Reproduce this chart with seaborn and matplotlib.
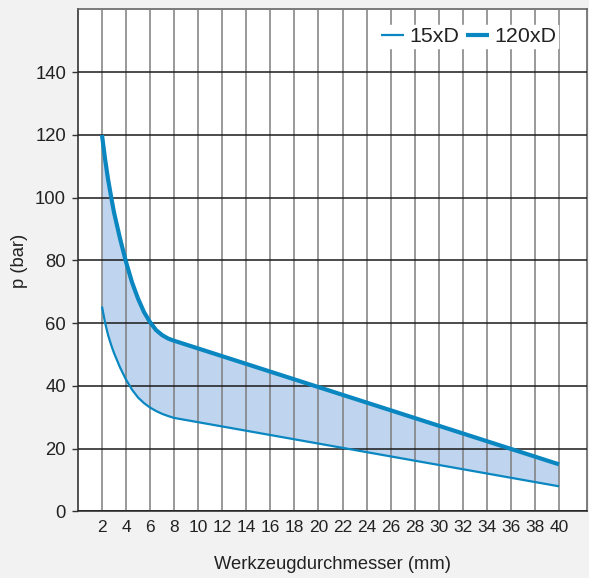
import matplotlib
matplotlib.use("Agg")
import matplotlib.pyplot as plt
import seaborn as sns
import pandas as pd

# Tool diameter (mm) and coolant pressure (bar) for two drilling depths
diameter = [2, 2.25, 2.5, 2.75, 3, 3.5, 4, 4.5, 5, 5.5, 6, 6.5, 7, 7.5, 8, 40]
p_15xD = [65.3, 60.3, 56.3, 53.2, 50.5, 45.9, 42.0, 38.8, 36.3, 34.5, 33.1, 32.0, 31.1, 30.4, 29.8, 8]
p_120xD = [120, 112.5, 106, 100.5, 95.3, 87, 79.5, 73, 67.8, 63.5, 60.3, 57.8, 56.2, 55.1, 54.4, 15]

x_ticks = list(range(2, 41, 2))
y_ticks = list(range(0, 141, 20))

df = pd.DataFrame({"d": diameter, "p15": p_15xD, "p120": p_120xD})

sns.set_theme(style="white")
plt.rcParams["font.family"] = ["Liberation Sans", "DejaVu Sans"]

blue = "#0a87c0"
fill = "#bfd5ef"
text_c = "#222222"

fig = plt.figure(figsize=(5.89, 5.78), dpi=100, facecolor="#f2f2f2")
ax = fig.add_axes([0.1323, 0.1152, 0.8638, 0.8684])
ax.set_facecolor("white")

ax.fill_between(df["d"], df["p15"], df["p120"], color=fill, linewidth=0, zorder=1)
sns.lineplot(data=df, x="d", y="p15", ax=ax, color=blue, linewidth=1.6,
             label="15xD", zorder=4, solid_capstyle="butt")
sns.lineplot(data=df, x="d", y="p120", ax=ax, color=blue, linewidth=3.0,
             label="120xD", zorder=4, solid_capstyle="butt")

ax.set_xlim(0, 42.3)
ax.set_ylim(0, 160)
ax.set_xticks(x_ticks)
ax.set_yticks(y_ticks)
ax.set_xticklabels([str(v) for v in x_ticks])
ax.set_yticklabels([str(v) for v in y_ticks])

ax.set_axisbelow(False)
ax.xaxis.grid(True, color="#7d7d7d", linewidth=1.1, zorder=2)
ax.yaxis.grid(True, color="#1a1a1a", linewidth=1.1, zorder=2)

ax.tick_params(axis="x", length=0, pad=6, labelsize=12.5, colors=text_c)
ax.tick_params(axis="y", length=4.5, width=1.0, color="#333333", pad=4,
               labelsize=13.3, labelcolor=text_c, left=True)

for side in ["left", "bottom"]:
    ax.spines[side].set_color("#444444")
    ax.spines[side].set_linewidth(1.3)
for side in ["top", "right"]:
    ax.spines[side].set_color("#666666")
    ax.spines[side].set_linewidth(1.2)

ax.set_xlabel("Werkzeugdurchmesser (mm)", fontsize=13.2, color=text_c, labelpad=15)
ax.set_ylabel("p (bar)", fontsize=13.2, color=text_c, labelpad=5)

leg = ax.legend(loc="upper right", bbox_to_anchor=(0.944, 0.969), ncol=2,
                frameon=True, fancybox=False, framealpha=1, edgecolor="white",
                facecolor="white", fontsize=15.4, handlelength=1.09,
                handletextpad=0.23, columnspacing=0.31, borderpad=0.1,
                borderaxespad=0)
for t in leg.get_texts():
    t.set_color(text_c)
leg.set_zorder(6)

fig.savefig("out.png", dpi=100, facecolor=fig.get_facecolor())
